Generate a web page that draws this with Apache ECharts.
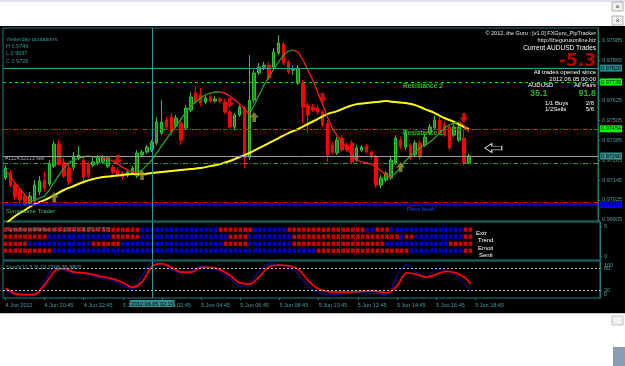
<!DOCTYPE html>
<html>
<head>
<meta charset="utf-8">
<script src="https://cdn.jsdelivr.net/npm/echarts@6/dist/echarts.min.js"></script>
<style>html,body{margin:0;padding:0;background:#fff}#chart{width:625px;height:366px}</style>
</head>
<body>
<div id="chart"></div>
<script>
// AUDUSD M15, 4 Jun 18:45 -> 5 Jun 18:30
var timeLabels = ['4 Jun 2012','4 Jun 20:45','4 Jun 22:45','5 Jun 00:45','5 Jun 02:45','5 Jun 04:45','5 Jun 06:45',
    '5 Jun 08:45','5 Jun 10:45','5 Jun 12:45','5 Jun 14:45','5 Jun 16:45','5 Jun 18:45'];
var priceTicks = [0.96905,0.97025,0.97145,0.97265,0.97385,0.97505,0.97625,0.97745,0.97865,0.97985];

// open, close, low, high
var candles = [
[0.97157,0.97217,0.97145,0.97235],[0.97187,0.97115,0.97103,0.97205],[0.97115,0.97042,0.97024,0.97127],
[0.97085,0.97024,0.97006,0.97097],[0.97048,0.97000,0.96988,0.97067],[0.97006,0.97048,0.96988,0.97073],
[0.97018,0.97115,0.97000,0.97145],[0.97073,0.97139,0.97054,0.97169],[0.97145,0.97097,0.97073,0.97193],
[0.97121,0.97248,0.97109,0.97266],[0.97229,0.97362,0.97217,0.97380],[0.97362,0.97241,0.97229,0.97386],
[0.97254,0.97169,0.97157,0.97278],[0.97217,0.97133,0.97115,0.97241],[0.97223,0.97284,0.97205,0.97314],
[0.97278,0.97296,0.97266,0.97350],[0.97266,0.97163,0.97121,0.97284],[0.97241,0.97175,0.97157,0.97254],
[0.97235,0.97254,0.97223,0.97278],[0.97248,0.97278,0.97235,0.97296],[0.97254,0.97284,0.97241,0.97296],
[0.97229,0.97278,0.97217,0.97290],[0.97223,0.97193,0.97181,0.97235],[0.97205,0.97175,0.97163,0.97223],
[0.97187,0.97163,0.97145,0.97199],[0.97175,0.97193,0.97163,0.97205],[0.97187,0.97217,0.97175,0.97229],
[0.97169,0.97308,0.97157,0.97326],[0.97296,0.97314,0.97284,0.97326],[0.97314,0.97344,0.97302,0.97356],
[0.97326,0.97374,0.97314,0.97386],[0.97368,0.97495,0.97356,0.97525],[0.97428,0.97495,0.97416,0.97627],
[0.97507,0.97465,0.97447,0.97525],[0.97525,0.97434,0.97416,0.97549],[0.97471,0.97519,0.97459,0.97537],
[0.97489,0.97386,0.97356,0.97507],[0.97459,0.97579,0.97447,0.97597],[0.97567,0.97646,0.97555,0.97676],
[0.97669,0.97615,0.97603,0.97712],[0.97658,0.97609,0.97591,0.97700],[0.97615,0.97640,0.97603,0.97658],
[0.97646,0.97621,0.97609,0.97663],[0.97621,0.97634,0.97609,0.97651],[0.97634,0.97621,0.97609,0.97646],
[0.97615,0.97555,0.97543,0.97634],[0.97555,0.97465,0.97453,0.97567],[0.97465,0.97537,0.97453,0.97549],
[0.97537,0.97585,0.97525,0.97597],[0.97579,0.97278,0.97217,0.97591],[0.97284,0.97627,0.97266,0.97899],
[0.97627,0.97790,0.97609,0.97808],[0.97790,0.97826,0.97778,0.97851],[0.97826,0.97838,0.97808,0.97857],
[0.97838,0.97760,0.97748,0.97857],[0.97826,0.97917,0.97814,0.97941],[0.97911,0.97971,0.97899,0.98019],
[0.97965,0.97851,0.97838,0.97977],[0.97857,0.97796,0.97784,0.97869],[0.97808,0.97814,0.97778,0.97832],
[0.97730,0.97820,0.97718,0.97838],[0.97730,0.97585,0.97489,0.97748],[0.97597,0.97537,0.97428,0.97615],
[0.97585,0.97567,0.97555,0.97603],[0.97579,0.97555,0.97537,0.97597],[0.97555,0.97477,0.97465,0.97567],
[0.97489,0.97296,0.97254,0.97507],[0.97356,0.97314,0.97302,0.97374],[0.97308,0.97386,0.97296,0.97404],
[0.97398,0.97326,0.97314,0.97416],[0.97356,0.97326,0.97314,0.97374],[0.97368,0.97254,0.97241,0.97386],
[0.97266,0.97338,0.97254,0.97356],[0.97326,0.97344,0.97314,0.97356],[0.97350,0.97314,0.97302,0.97362],
[0.97314,0.97284,0.97272,0.97326],[0.97284,0.97115,0.97097,0.97296],[0.97115,0.97157,0.97097,0.97175],
[0.97145,0.97187,0.97133,0.97199],[0.97157,0.97266,0.97145,0.97284],[0.97248,0.97398,0.97235,0.97416],
[0.97386,0.97344,0.97332,0.97404],[0.97344,0.97428,0.97326,0.97447],[0.97356,0.97278,0.97266,0.97368],
[0.97296,0.97368,0.97284,0.97386],[0.97368,0.97284,0.97266,0.97386],[0.97356,0.97404,0.97344,0.97422],
[0.97428,0.97465,0.97416,0.97483],[0.97459,0.97507,0.97447,0.97537],[0.97507,0.97428,0.97416,0.97525],
[0.97477,0.97416,0.97404,0.97495],[0.97465,0.97338,0.97326,0.97477],[0.97416,0.97465,0.97404,0.97483],
[0.97386,0.97465,0.97374,0.97483],[0.97398,0.97248,0.97235,0.97447],[0.97248,0.97290,0.97241,0.97302]
];

// slow yellow average [bar, price]
var maYellow = [[0,0.96880],[2,0.96928],[4,0.96964],[6,0.97000],[8,0.97024],[10,0.97054],[12,0.97085],
    [14,0.97109],[16,0.97133],[18,0.97151],[20,0.97163],[22,0.97169],[24,0.97175],[26,0.97181],[28,0.97181],
    [30,0.97187],[32,0.97193],[34,0.97199],[36,0.97205],[38,0.97211],[40,0.97217],[42,0.97229],[44,0.97241],
    [46,0.97260],[48,0.97284],[50,0.97308],[52,0.97338],[54,0.97368],[56,0.97398],[58,0.97428],[60,0.97453],
    [62,0.97483],[64,0.97513],[66,0.97543],[68,0.97561],[70,0.97585],[72,0.97603],[74,0.97609],[76,0.97615],
    [78,0.97621],[80,0.97615],[82,0.97609],[84,0.97597],[86,0.97573],[88,0.97549],[90,0.97519],[92,0.97495],
    [94,0.97465],[95,0.97453]];

// fast trend line, coloured by direction
var trendLine = [0.97205,0.97169,0.97127,0.97091,0.97054,0.97018,0.97024,0.97036,0.97048,0.97085,
    0.97133,0.97175,0.97217,0.97248,0.97266,0.97278,0.97284,0.97290,0.97284,0.97284,
    0.97278,0.97272,0.97260,0.97241,0.97223,0.97205,0.97193,0.97187,0.97205,0.97235,
    0.97266,0.97308,0.97350,0.97392,0.97434,0.97471,0.97513,0.97555,0.97591,0.97615,
    0.97640,0.97658,0.97669,0.97676,0.97676,0.97669,0.97651,0.97627,0.97603,0.97573,
    0.97543,0.97597,0.97658,0.97718,0.97766,0.97814,0.97857,0.97899,0.97923,0.97929,
    0.97917,0.97869,0.97808,0.97748,0.97676,0.97603,0.97525,0.97459,0.97410,0.97374,
    0.97338,0.97296,0.97266,0.97254,0.97248,0.97241,0.97223,0.97199,0.97175,0.97163,
    0.97187,0.97223,0.97260,0.97290,0.97314,0.97338,0.97356,0.97374,0.97398,0.97428,
    0.97459,0.97477,0.97489,0.97495,0.97477,0.97434];
var trendRuns = [['dn',0,5],['up',5,17],['dn',17,27],['up',27,44],['dn',44,50],['up',50,59],['dn',59,79],['up',79,93],['dn',93,95]];

var sellArrows = [[23,0.97266],[46,0.97609],[65,0.97640],[94,0.97519]];
var buyArrows = [[10,0.97042],[28,0.97175],[51,0.97525],[81,0.97223]];
var pointerArrow = [[100,0.97338]];

// SymphonieMarket rows: runs of R(ed)/B(lue)
var rowExtr = [['R',28],['B',16],['R',7],['B',7],['R',16],['B',2],['R',3],['B',15],['R',2]];
var rowTrend = [['R',9],['B',13],['R',6],['B',18],['R',4],['B',9],['R',22],['B',1],['R',2],['B',10],['R',2]];
var rowEmoti = [['R',5],['B',13],['R',6],['B',21],['R',5],['B',9],['R',19],['B',13],['R',5]];
var rowSenti = [['R',10],['B',54],['R',19],['B',11],['R',2]];
var rowLevels = [4.5, 3.3, 2.1, 0.9];

// Stoch(11,3,3)
var stochMain = [[0,22],[2,8],[4,6],[6,8],[8,45],[10,82],[12,76],[14,66],[16,66],[18,60],[20,52],[22,48],
    [24,35],[26,24],[28,62],[30,95],[32,92],[34,75],[36,68],[38,75],[40,86],[42,80],[44,70],[46,52],[48,32],
    [50,42],[52,75],[54,92],[56,90],[58,82],[60,62],[62,30],[64,16],[66,10],[68,10],[70,12],[72,15],[74,13],
    [76,12],[78,8],[80,60],[82,90],[84,70],[86,58],[88,78],[90,75],[92,62],[94,35],[95,20]];
var stochSignal = [[0,27],[2,12],[4,9],[6,10],[8,35],[10,72],[12,80],[14,70],[16,68],[18,63],[20,57],[22,52],
    [24,42],[26,29],[28,45],[30,86],[32,93],[34,82],[36,70],[38,70],[40,83],[42,83],[44,76],[46,60],[48,40],
    [50,38],[52,60],[54,85],[56,89],[58,87],[60,76],[62,45],[64,24],[66,17],[68,16],[70,16],[72,17],[74,19],
    [76,18],[78,14],[80,32],[82,68],[84,64],[86,56],[88,64],[90,72],[92,68],[94,54],[95,38]];

var crossBar = 30;

(function(){
    var dom = document.getElementById('chart');
    var myChart = echarts.init(dom);
    var FONT = 'Liberation Sans';
    var teal = '#1f7f7f';
    var axisText = '#4f9b9b';

    var bars = [];
    for (var i = 0; i < 122; i++) bars.push(i);

    function trendPart(dir) {
        var out = trendLine.map(function(){ return null; });
        trendRuns.forEach(function(r){
            if (r[0] === dir) for (var j = r[1]; j <= r[2]; j++) out[j] = trendLine[j];
        });
        return out;
    }

    var cells = [];
    [rowExtr, rowTrend, rowEmoti, rowSenti].forEach(function(runs, k){
        var idx = 0;
        runs.forEach(function(r){
            for (var j = 0; j < r[1]; j++) { cells.push([idx, rowLevels[k], r[0]]); idx++; }
        });
    });

    function box(text, bg) {
        return {show: true, position: 'end', distance: 2, formatter: text, backgroundColor: bg, color: '#000',
            padding: [1, 1, 0, 1], fontSize: 5.5, fontFamily: FONT};
    }
    var noLabel = {show: false};

    function txt(x, y, text, color, font, align) {
        return {type: 'text', x: x, y: y, z: 100, silent: true,
            style: {text: text, fill: color, font: font, textAlign: align || 'left', textVerticalAlign: 'middle'}};
    }
    var small = '5.5px "Liberation Sans"';
    var mid = '6px "Liberation Sans"';

    var option = {
        backgroundColor: '#000',
        animation: false,
        textStyle: {fontFamily: FONT},
        grid: [
            {left: 3, right: 25, top: 28, height: 193, show: true, backgroundColor: '#000', borderColor: teal, borderWidth: 1},
            {left: 3, right: 25, top: 222, height: 38, show: true, backgroundColor: '#000', borderColor: teal, borderWidth: 1},
            {left: 3, right: 25, top: 261, height: 37, show: true, backgroundColor: '#000', borderColor: teal, borderWidth: 1}
        ],
        xAxis: [
            {type: 'category', gridIndex: 0, data: bars, axisLine: {show: false}, axisTick: {show: false}, axisLabel: {show: false}},
            {type: 'category', gridIndex: 1, data: bars, axisLine: {show: false}, axisTick: {show: false}, axisLabel: {show: false}},
            {type: 'category', gridIndex: 2, data: bars, axisLine: {show: false},
                axisTick: {show: true, alignWithLabel: true, length: 2, lineStyle: {color: teal},
                    interval: function(i){ return i % 8 === 0 && i <= 96; }},
                axisLabel: {show: true, align: 'left', margin: 4, fontSize: 5.5, color: axisText,
                    interval: function(i){ return i % 8 === 0 && i <= 96; },
                    formatter: function(v, i){ return timeLabels[i / 8] || ''; }}}
        ],
        yAxis: [
            {type: 'value', gridIndex: 0, position: 'right', min: 0.96898, max: 0.98062, splitLine: {show: false},
                axisLine: {show: true, lineStyle: {color: teal}},
                axisTick: {show: true, length: 2, customValues: priceTicks, lineStyle: {color: teal}},
                axisLabel: {customValues: priceTicks, fontSize: 5.5, color: axisText, margin: 4,
                    formatter: function(v){ return v.toFixed(5); }}},
            {type: 'value', gridIndex: 1, position: 'right', min: -0.68, max: 5.8, splitLine: {show: false},
                axisLine: {show: true, lineStyle: {color: teal}},
                axisTick: {show: true, length: 2, customValues: [0, 5], lineStyle: {color: teal}},
                axisLabel: {customValues: [0, 5], fontSize: 6, color: axisText, margin: 4}},
            {type: 'value', gridIndex: 2, position: 'right', min: 0, max: 100, splitLine: {show: false},
                axisLine: {show: true, lineStyle: {color: teal}},
                axisTick: {show: true, length: 2, customValues: [20, 80], lineStyle: {color: teal}},
                axisLabel: {customValues: [20, 80], fontSize: 5.5, color: axisText, margin: 4}}
        ],
        series: [
            {name: 'AUDUSD', type: 'candlestick', xAxisIndex: 0, yAxisIndex: 0, data: candles, barWidth: 3,
                itemStyle: {color: '#1b8c1b', color0: '#ff0000', borderColor: '#2fc42f', borderColor0: '#ff0000', borderWidth: 1},
                markLine: {silent: true, precision: 5, symbol: ['none', 'none'], animation: false, data: [
                    {yAxis: 0.97820, lineStyle: {color: '#2a9d9d', type: 'solid', width: 1}, label: box('0.97820', '#2a8f8f')},
                    {yAxis: 0.97736, lineStyle: {color: '#00e000', type: [3, 3], width: 1}, label: box('0.97736', '#00ff00')},
                    {yAxis: 0.97454, lineStyle: {color: '#ff0000', type: [5, 2, 1, 2], width: 1}, label: box('0.97454', '#00ff00')},
                    {yAxis: 0.97454, lineStyle: {color: '#00c000', type: [1, 6], width: 1}, label: noLabel},
                    {yAxis: 0.97290, lineStyle: {color: '#9a9aa8', type: 'solid', width: 1}, label: box('0.97290', '#3a8f8f')},
                    {yAxis: 0.97248, lineStyle: {color: '#2e9e2e', type: [5, 2, 1, 2], width: 1}, label: noLabel},
                    {yAxis: 0.97012, lineStyle: {color: '#e00000', type: [5, 2, 1, 2], width: 1}, label: noLabel},
                    {yAxis: 0.96997, lineStyle: {color: '#0000ff', type: 'solid', width: 1.5}, label: box('0.96997', '#0000ff')},
                    {xAxis: crossBar, lineStyle: {color: '#2a9d9d', type: 'solid', width: 1}, label: noLabel}
                ]}},
            {name: 'MA', type: 'line', xAxisIndex: 0, yAxisIndex: 0, data: maYellow, smooth: 0.4, showSymbol: false,
                lineStyle: {color: '#ffff00', width: 2}, z: 3},
            {name: 'trendUp', type: 'line', xAxisIndex: 0, yAxisIndex: 0, data: trendPart('up'), showSymbol: false,
                connectNulls: false, lineStyle: {color: '#2aa02a', width: 1.3}, z: 4},
            {name: 'trendDn', type: 'line', xAxisIndex: 0, yAxisIndex: 0, data: trendPart('dn'), showSymbol: false,
                connectNulls: false, lineStyle: {color: '#ff1a1a', width: 1.3}, z: 4},
            {name: 'sell', type: 'scatter', xAxisIndex: 0, yAxisIndex: 0, data: sellArrows,
                symbol: 'path://M3,0L7,0L7,5L10,5L5,11L0,5L3,5Z', symbolSize: [9, 10], itemStyle: {color: '#ff1010'}, z: 6},
            {name: 'buy', type: 'scatter', xAxisIndex: 0, yAxisIndex: 0, data: buyArrows,
                symbol: 'path://M5,0L10,6L7,6L7,11L3,11L3,6L0,6Z', symbolSize: [9, 10], itemStyle: {color: '#9a9a2e'}, z: 6},
            {name: 'pointer', type: 'scatter', xAxisIndex: 0, yAxisIndex: 0, data: pointerArrow,
                symbol: 'path://M0,5L7,0L7,3L17,3L17,7L7,7L7,10Z', symbolSize: [17, 9],
                itemStyle: {color: '#000', borderColor: '#ffffff', borderWidth: 1}, z: 6},
            {name: 'Symphonie', type: 'scatter', xAxisIndex: 1, yAxisIndex: 1, data: cells, symbol: 'rect', symbolSize: [3.6, 4.4],
                itemStyle: {color: function(p){ return p.data[2] === 'R' ? '#ff0000' : '#0000ff'; }},
                markLine: {silent: true, symbol: ['none', 'none'], animation: false, label: noLabel,
                    data: [{xAxis: crossBar, lineStyle: {color: '#2a9d9d', type: 'solid', width: 1}}]}},
            {name: 'stochMain', type: 'line', xAxisIndex: 2, yAxisIndex: 2, data: stochMain, smooth: 0.3, showSymbol: false,
                lineStyle: {color: '#1010d0', width: 1}},
            {name: 'stochSignal', type: 'line', xAxisIndex: 2, yAxisIndex: 2, data: stochSignal, smooth: 0.3, showSymbol: false,
                lineStyle: {color: '#ff0000', width: 1.8},
                markLine: {silent: true, symbol: ['none', 'none'], animation: false, data: [
                    {yAxis: 80, lineStyle: {color: '#c8c8c8', type: [2, 2], width: 1}, label: noLabel},
                    {yAxis: 20, lineStyle: {color: '#c8c8c8', type: [2, 2], width: 1}, label: noLabel},
                    {xAxis: crossBar, lineStyle: {color: '#2a9d9d', type: 'solid', width: 1},
                        label: {show: true, position: 'start', distance: 2, formatter: '2012.06.05 02:15',
                            backgroundColor: '#2a8f8f', color: '#000', padding: [1, 1, 0, 1], fontSize: 5.5}}
                ]}}
        ],
        graphic: [
            {type: 'rect', z: 50, silent: true, shape: {x: 0, y: 0, width: 625, height: 26}, style: {fill: '#ffffff'}},
            {type: 'rect', z: 50, silent: true, shape: {x: 0, y: 0, width: 625, height: 2}, style: {fill: '#dde2ea'}},
            {type: 'rect', z: 50, silent: true, shape: {x: 0, y: 313, width: 625, height: 53}, style: {fill: '#ffffff'}},
            {type: 'rect', z: 50, silent: true, shape: {x: 0, y: 313, width: 625, height: 1}, style: {fill: '#c8ccd2'}},
            {type: 'rect', z: 50, silent: true, shape: {x: 612, y: 2, width: 11, height: 9}, style: {fill: '#f0f0f0', stroke: '#b0b0b0'}},
            txt(617.5, 6.5, '×', '#444', '8px "Liberation Sans"', 'center'),
            {type: 'rect', z: 50, silent: true, shape: {x: 612, y: 16, width: 11, height: 9}, style: {fill: '#f0f0f0', stroke: '#b0b0b0'}},
            txt(617.5, 20.5, '×', '#444', '8px "Liberation Sans"', 'center'),
            {type: 'rect', z: 50, silent: true, shape: {x: 612, y: 316, width: 11, height: 9}, style: {fill: '#f0f0f0', stroke: '#c0c0c0'}},
            {type: 'rect', z: 50, silent: true, shape: {x: 613, y: 347, width: 12, height: 19}, style: {fill: '#8a9cb4'}},

            txt(6, 39, 'Yesterday quotations:', '#2f9a9a', small),
            txt(6, 46.5, 'H 0.9746', '#2f9a9a', small),
            txt(6, 53.5, 'L 0.9637', '#2f9a9a', small),
            txt(6, 61, 'C 0.9726', '#2f9a9a', small),

            txt(596, 33.5, '© 2012, the Guru : [v1.0] FXGuru_PipTracker', '#e8e8e8', small, 'right'),
            txt(596, 40.5, 'http://thegurusonline.biz', '#e8e8e8', small, 'right'),
            txt(596, 48.5, 'Current AUDUSD Trades', '#ffffff', '6.5px "Liberation Sans"', 'right'),
            txt(596, 61.5, '-5.3', '#b80000', 'bold 17px "DejaVu Sans"', 'right'),
            txt(596, 72.5, 'All trades opened since', '#ffffff', mid, 'right'),
            txt(596, 79, '2012.06.05 00:00', '#ffffff', mid, 'right'),
            txt(528, 85.5, 'AUDUSD', '#ffffff', mid),
            txt(596, 85.5, 'All Pairs', '#ffffff', mid, 'right'),
            txt(530, 94, '35.1', '#35a835', 'bold 9px "Liberation Sans"'),
            txt(596, 94, '91.8', '#35a835', 'bold 9px "Liberation Sans"', 'right'),
            txt(545, 103.5, '1/1 Buys', '#ffffff', mid),
            txt(594, 103.5, '2/6', '#ffffff', mid, 'right'),
            txt(545, 109.5, '1/2Sells', '#ffffff', mid),
            txt(594, 109.5, '5/6', '#ffffff', mid, 'right'),

            txt(403, 86.5, 'Resistance 2', '#22c022', 'bold 6.5px "Liberation Sans"'),
            txt(403, 133, 'Resistance 1', '#22c022', 'bold 6.5px "Liberation Sans"'),
            txt(5, 158.5, '#112432113 sell', '#a0a8b0', small),
            txt(6, 211, 'Symphonie Trader', '#3fbf6f', mid),
            txt(407, 209, 'Pivot level', '#2040ff', mid),

            txt(6, 229.5, 'SymphonieMarket v1.0 (2012.06.05 17:57)', '#5a9a9a', small),
            txt(476, 233, 'Extr', '#ffffff', mid),
            txt(478, 240.5, 'Trend', '#ffffff', mid),
            txt(478, 248, 'Emoti', '#ffffff', mid),
            txt(479, 255, 'Senti', '#ffffff', mid),

            txt(6, 267, 'Stoch(11,3,3) 19.2708 35.9805', '#4a9a9a', small),
            txt(604, 265, '100', axisText, small),
            txt(604, 294, '0', axisText, small)
        ]
    };
    if (option && typeof option === 'object') {
        myChart.setOption(option, true);
    }
})();
</script>
</body>
</html>
